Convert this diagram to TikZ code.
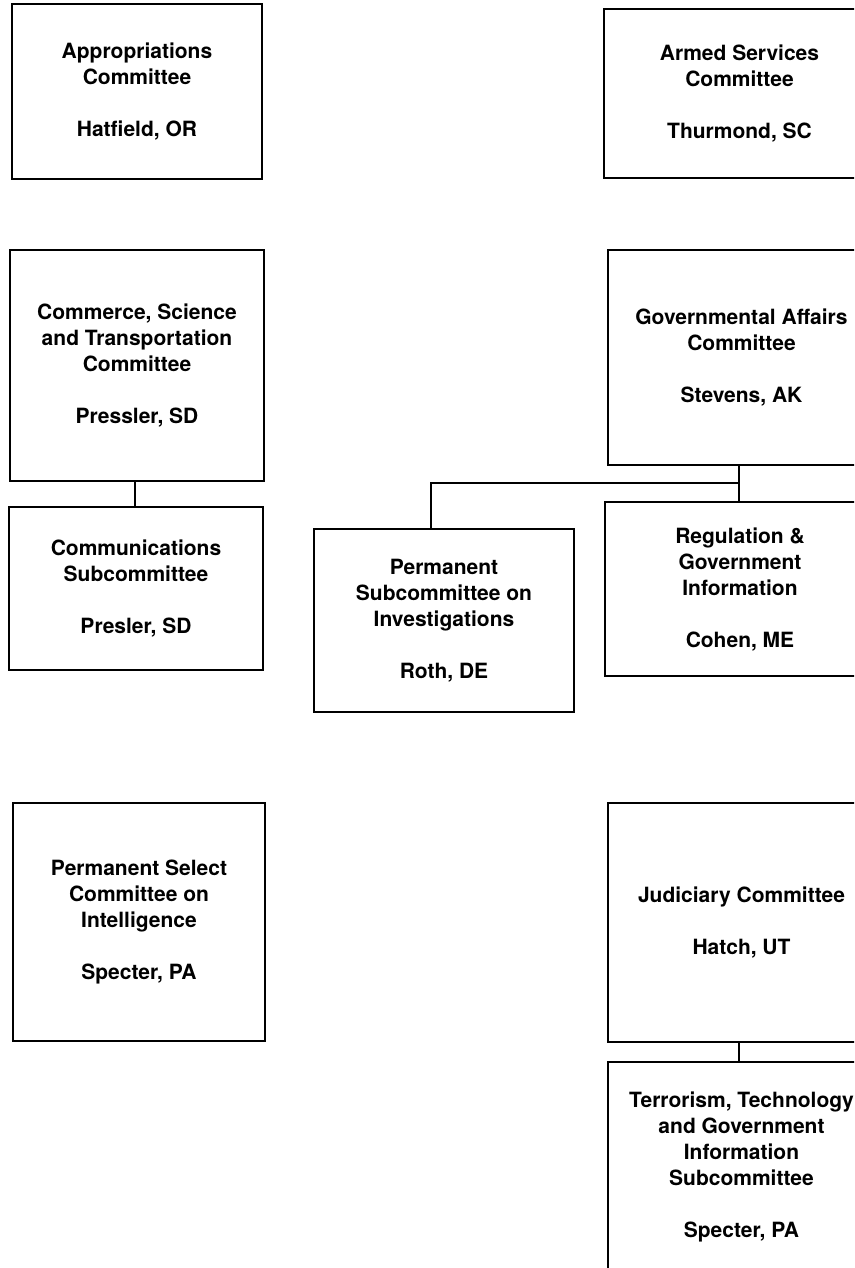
\documentclass[tikz,border=0pt]{standalone}
\usepackage{fontspec}
\setmainfont{TeX Gyre Heros}
\begin{document}
\begin{tikzpicture}[x=1pt,y=-1pt,
  box/.style={draw=black, line width=2.8pt, rectangle, inner sep=0pt, align=center,
    font=\fontsize{21}{26}\selectfont\bfseries},
  link/.style={draw=black, line width=2.3pt}]
  \useasboundingbox (0,0) rectangle (854,1268);
  \clip (0,0) rectangle (854,1268);

  % left column
  \node[box, minimum width=250pt, minimum height=175pt] (approp) at (137,91.5)
    {Appropriations\\Committee\\[26pt]Hatfield, OR};
  \node[box, minimum width=254pt, minimum height=231pt] (commerce) at (137,365.5)
    {Commerce, Science\\and Transportation\\Committee\\[26pt]Pressler, SD};
  \node[box, minimum width=254pt, minimum height=163pt] (comms) at (136,588.5)
    {Communications\\Subcommittee\\[26pt]Presler, SD};
  \node[box, minimum width=252pt, minimum height=238pt] (select) at (139,922)
    {Permanent Select\\Committee on\\Intelligence\\[26pt]Specter, PA};

  % middle
  \node[box, minimum width=260pt, minimum height=183pt] (perm) at (444,620.5)
    {Permanent\\Subcommittee on\\Investigations\\[26pt]Roth, DE};

  % right column (runs past the page edge)
  \node[box, minimum width=271pt, minimum height=169pt] (armed) at (739.5,93.5)
    {Armed Services\\Committee\\[26pt]Thurmond, SC};
  \node[box, minimum width=267pt, minimum height=215pt] (gov) at (741.5,357.5)
    {Governmental Affairs\\Committee\\[26pt]Stevens, AK};
  \node[box, minimum width=270pt, minimum height=174pt] (reg) at (740,589)
    {Regulation \&\\Government\\Information\\[26pt]Cohen, ME};
  \node[box, minimum width=267pt, minimum height=239pt] (judic) at (741.5,922.5)
    {Judiciary Committee\\[26pt]Hatch, UT};
  \node[box, minimum width=267pt, minimum height=210pt] (terror) at (741.5,1167)
    {Terrorism, Technology\\and Government\\Information\\Subcommittee\\[26pt]Specter, PA};

  % junction points of the connectors
  \coordinate (gj) at (739,483);
  \coordinate (pj) at (431,483);

  % connectors
  \draw[link] (commerce.south -| 135,0) -- (comms.north -| 135,0);
  \draw[link] (gj |- gov.south) -- (gj |- reg.north);
  \draw[link] (gj) -- (pj) -- (pj |- perm.north);
  \draw[link] (gj |- judic.south) -- (gj |- terror.north);
\end{tikzpicture}
\end{document}
